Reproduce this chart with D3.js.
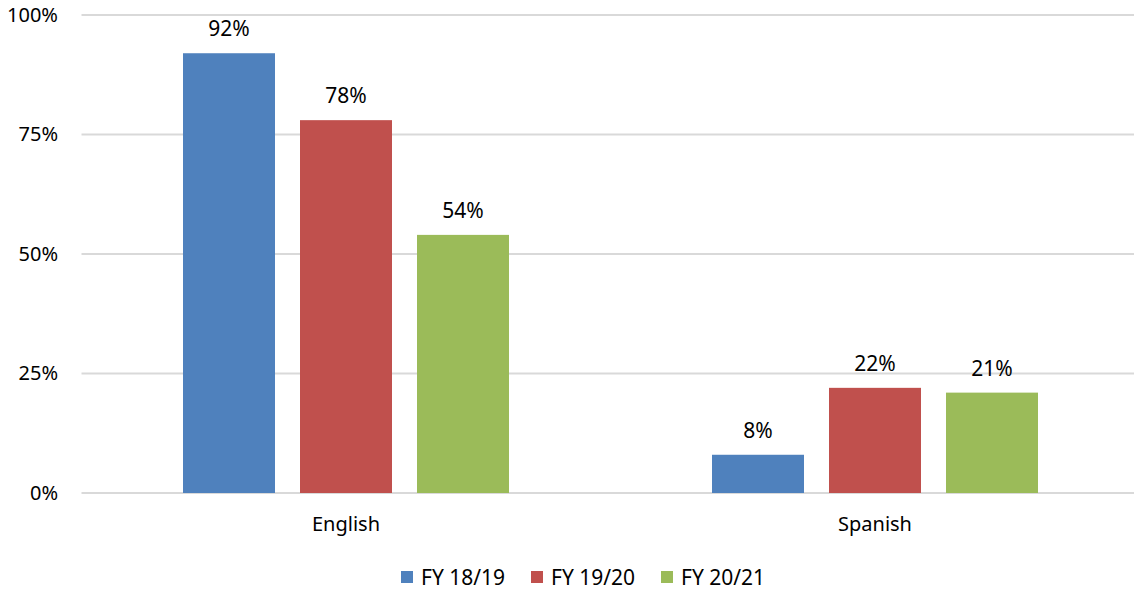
<!DOCTYPE html>
<html>
<head>
<meta charset="utf-8">
<script src="https://cdn.jsdelivr.net/npm/d3@7"></script>
<style>
  html, body { margin: 0; padding: 0; background: #fff; }
  svg { display: block; font-family: "Noto Sans", "Open Sans", sans-serif; }
</style>
</head>
<body>
<svg id="chart" width="1134" height="594"></svg>
<script>
// Share of responses by language, per fiscal year
const categories = ["English", "Spanish"];
const seriesNames = ["FY 18/19", "FY 19/20", "FY 20/21"];
const fy1819 = [92, 8];
const fy1920 = [78, 22];
const fy2021 = [54, 21];
const yTicks = [0, 25, 50, 75, 100];
const colors = ["#4F81BD", "#C0504D", "#9BBB59"];

const seriesValues = [fy1819, fy1920, fy2021];
const rows = categories.map((c, i) => ({
  category: c,
  values: seriesNames.map((s, j) => ({ series: s, value: seriesValues[j][i], color: colors[j] }))
}));

const svg = d3.select("#chart");
const W = 1134;
const FS = 20;
const plot = { left: 81.5, right: 1139.5, top: 15, bottom: 493 };

const x0 = d3.scaleBand().domain(categories).range([plot.left, plot.right]).paddingInner(0).paddingOuter(0);
const groupPad = (x0.bandwidth() - 326) / 2;
const x1 = d3.scaleBand().domain(seriesNames)
  .range([groupPad, x0.bandwidth() - groupPad]).paddingInner(25 / 117).paddingOuter(0);
const y = d3.scaleLinear().domain([0, 100]).range([plot.bottom, plot.top]);

// gridlines
svg.append("g").selectAll("line").data(yTicks).join("line")
  .attr("x1", plot.left).attr("x2", W)
  .attr("y1", d => y(d)).attr("y2", d => y(d))
  .attr("stroke", "#d9d9d9").attr("stroke-width", 2);

// y axis labels
const yAxis = d3.axisLeft(y).tickValues(yTicks).tickFormat(d => d + "%").tickSize(0).tickPadding(0);
const yg = svg.append("g").attr("transform", `translate(58,0)`).call(yAxis);
yg.select(".domain").remove();
yg.selectAll("text").attr("font-size", FS).attr("fill", "#000").attr("font-family", "Noto Sans, sans-serif");

// bars
const groups = svg.append("g").selectAll("g").data(rows).join("g")
  .attr("transform", d => `translate(${x0(d.category)},0)`);

groups.selectAll("rect").data(d => d.values).join("rect")
  .attr("x", d => x1(d.series))
  .attr("width", x1.bandwidth())
  .attr("y", d => y(d.value))
  .attr("height", d => y(0) - y(d.value))
  .attr("fill", d => d.color);

groups.selectAll("text").data(d => d.values).join("text")
  .attr("x", d => x1(d.series) + x1.bandwidth() / 2)
  .attr("y", d => y(d.value) - 17)
  .attr("text-anchor", "middle")
  .attr("font-size", 21)
  .attr("fill", "#000")
  .text(d => d.value + "%");

// category axis
const xAxis = d3.axisBottom(x0).tickSize(0).tickPadding(0);
const xg = svg.append("g").attr("transform", `translate(0,${plot.bottom})`).call(xAxis);
xg.select(".domain").remove();
xg.selectAll("text").attr("font-size", FS).attr("fill", "#000").attr("font-family", "Noto Sans, sans-serif")
  .attr("dy", null).attr("y", 38);

// legend
const legendX = [401, 531, 661];
const legend = svg.append("g").selectAll("g").data(seriesNames).join("g")
  .attr("transform", (d, i) => `translate(${legendX[i]},571)`);
legend.append("rect").attr("width", 12).attr("height", 12).attr("fill", (d, i) => colors[i]);
legend.append("text").attr("x", 20).attr("y", 14)
  .attr("font-size", 21).attr("fill", "#000").text(d => d);
</script>
</body>
</html>
